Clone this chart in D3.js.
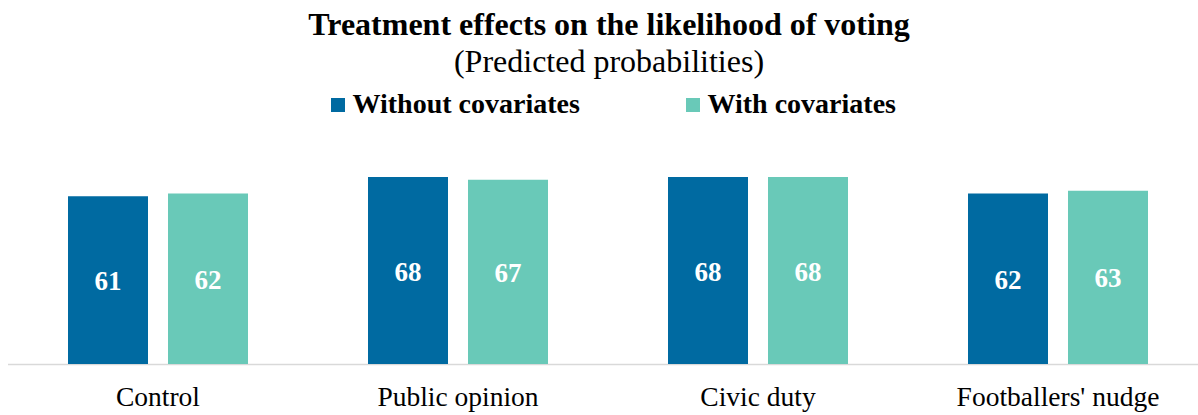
<!DOCTYPE html>
<html>
<head>
<meta charset="utf-8">
<script src="https://cdn.jsdelivr.net/npm/d3@7"></script>
<style>
  html, body { margin: 0; padding: 0; background: #fff; }
  svg { display: block; font-family: "Liberation Serif", "Times New Roman", serif; }
</style>
</head>
<body>
<svg id="chart" width="1198" height="415"></svg>
<script>
// Predicted probability of voting (%) by treatment group
const categories = ["Control", "Public opinion", "Civic duty", "Footballers' nudge"];
const seriesNames = ["Without covariates", "With covariates"];
const withoutCovariates = [61, 68, 68, 62];
const withCovariates = [62, 67, 68, 63];
const colors = ["#006aa1", "#69c9b8"];

const svg = d3.select("#chart");

const x = d3.scaleBand().domain(categories).range([8, 1208]).paddingInner(0).paddingOuter(0);
const inner = d3.scaleBand().domain(seriesNames).range([60, 240]).paddingInner(0.2);
const y = d3.scaleLinear().domain([0, 100]).range([364, 89]);

const seriesValues = [withoutCovariates, withCovariates];
const rows = categories.map((c, i) => ({ cat: c, vals: seriesNames.map((s, k) => ({ s, k, v: seriesValues[k][i] })) }));

// Title
svg.append("text").attr("x", 609).attr("y", 35).attr("text-anchor", "middle")
  .attr("font-size", 32).attr("font-weight", "bold").text("Treatment effects on the likelihood of voting");
svg.append("text").attr("x", 609).attr("y", 72).attr("text-anchor", "middle")
  .attr("font-size", 32).text("(Predicted probabilities)");

// Legend
const legendX = [331, 686];
const legend = svg.append("g");
seriesNames.forEach((s, k) => {
  const g = legend.append("g").attr("transform", `translate(${legendX[k]},0)`);
  g.append("rect").attr("x", 0).attr("y", 98).attr("width", 14).attr("height", 14).attr("fill", colors[k]);
  g.append("text").attr("x", 21.5).attr("y", 113).attr("font-size", 28).attr("font-weight", "bold").text(s);
});

// Baseline
svg.append("line").attr("x1", 8).attr("x2", 1198).attr("y1", 364.5).attr("y2", 364.5)
  .attr("stroke", "#d9d9d9").attr("stroke-width", 1.5);

// Bars
const groups = svg.selectAll("g.cat").data(rows).join("g").attr("class", "cat")
  .attr("transform", d => `translate(${x(d.cat)},0)`);

groups.selectAll("rect").data(d => d.vals).join("rect")
  .attr("x", d => inner(d.s))
  .attr("width", inner.bandwidth())
  .attr("y", d => y(d.v))
  .attr("height", d => y(0) - y(d.v))
  .attr("fill", d => colors[d.k]);

groups.selectAll("text.val").data(d => d.vals).join("text").attr("class", "val")
  .attr("x", d => inner(d.s) + inner.bandwidth() / 2)
  .attr("y", d => (y(d.v) + y(0)) / 2 + 10)
  .attr("text-anchor", "middle")
  .attr("font-size", 27).attr("font-weight", "bold").attr("fill", "#fff")
  .text(d => d.v);

// Category axis labels
svg.append("g").selectAll("text").data(categories).join("text")
  .attr("x", d => x(d) + x.bandwidth() / 2)
  .attr("y", 406)
  .attr("text-anchor", "middle")
  .attr("font-size", 27.5)
  .text(d => d);
</script>
</body>
</html>
